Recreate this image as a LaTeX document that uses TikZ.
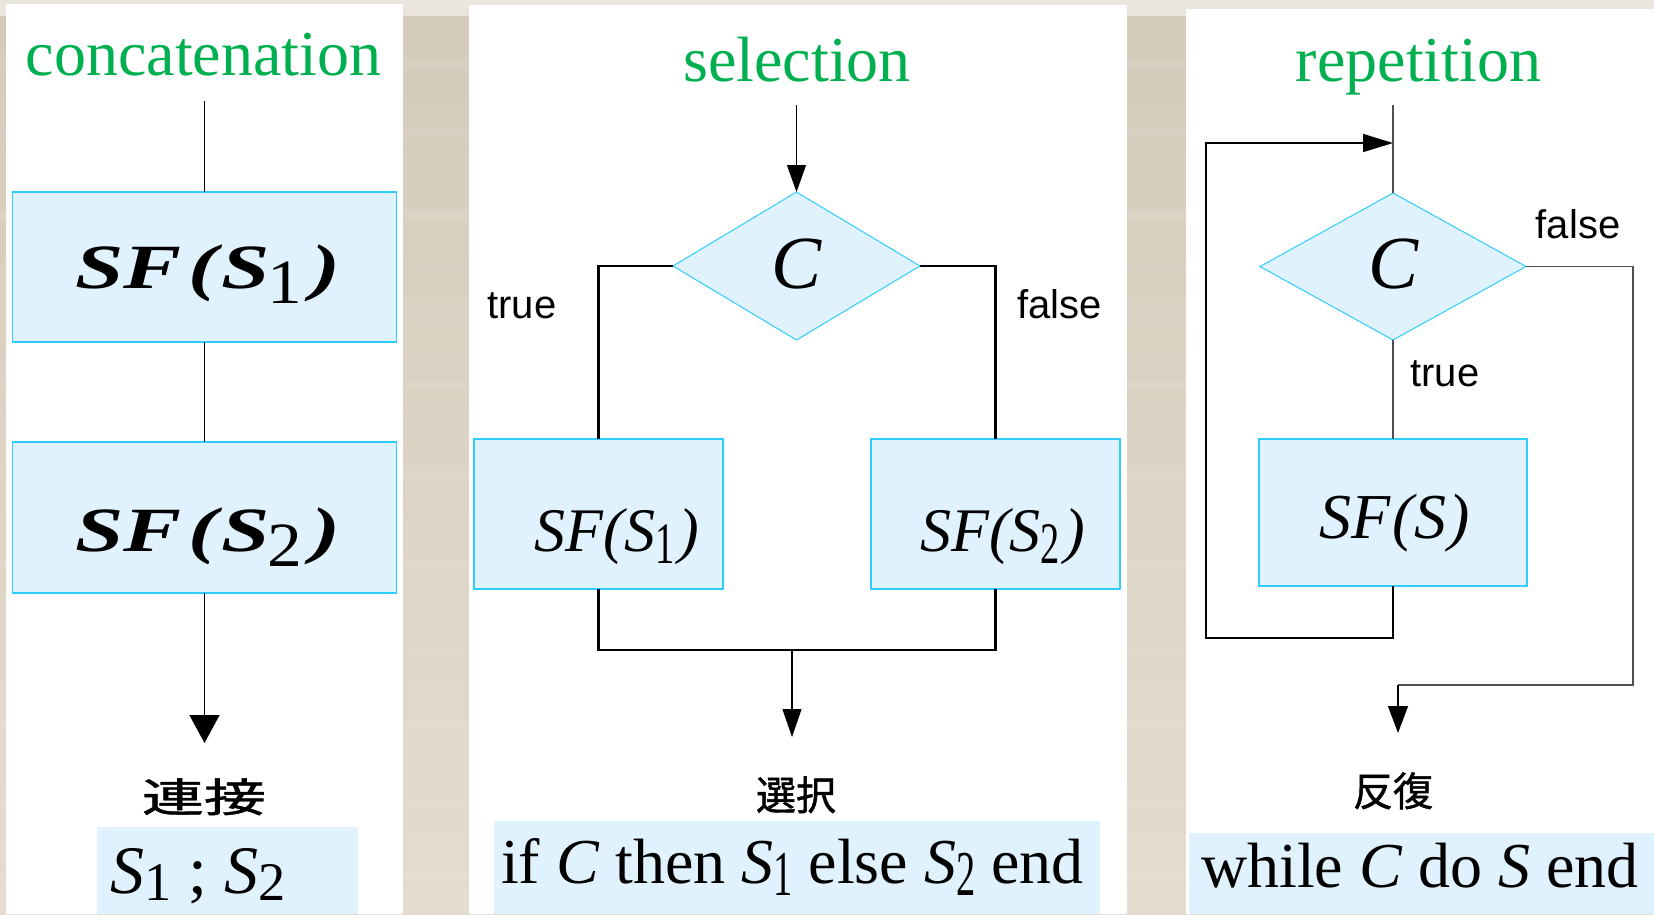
\documentclass[tikz,border=0pt]{standalone}
\usepackage{fontspec}
\usepackage{graphicx}
\setmainfont{Liberation Serif}
\newfontfamily\sansf{Liberation Sans}
\newfontfamily\cjk[FakeBold=1.2]{Noto Sans CJK JP}
\usetikzlibrary{shapes.geometric,arrows.meta}

\definecolor{titlegreen}{RGB}{0,176,80}
\definecolor{boxfill}{RGB}{224,242,254}
\definecolor{boxline}{RGB}{45,205,255}
\definecolor{paneltop}{RGB}{234,230,222}
\definecolor{beigeA}{RGB}{212,203,186}
\definecolor{beigeB}{RGB}{228,220,206}
\definecolor{wire}{RGB}{80,80,80}

% font size in points, unit leading
\newcommand\fs[1]{\fontsize{#1}{#1}\selectfont}
% lowered, rescaled index: drop, x-scale, y-scale, text
\newcommand\idx[4]{\raisebox{#1}{\scalebox{#2}[#3]{#4}}}

\begin{document}
\begin{tikzpicture}[x=1pt,y=-1pt,
  every node/.style={inner sep=0pt,outer sep=0pt},
  title/.style={text=titlegreen,font=\fs{64},anchor=base},
  proc/.style={rectangle,draw=boxline,fill=boxfill,line width=1.3pt},
  cond/.style={diamond,draw=boxline,fill=boxfill,line width=1pt,
    font=\fs{75}\itshape,text height=50pt,text depth=6pt},
  stmt/.style={anchor=base,font=\fs{62}\itshape},
  bigstmt/.style={anchor=base,font=\fs{63}\bfseries\itshape},
  branch/.style={anchor=base,font=\sansf\fs{40}},
  jp/.style={anchor=base,font=\cjk\fs{40}},
  formula/.style={rectangle,fill=boxfill},
  code/.style={anchor=base west},
  flow/.style={line width=1.3pt,draw=black},
  thick flow/.style={line width=2.2pt,draw=black},
]
\useasboundingbox (0,0) rectangle (1654,914);

% backdrop
\fill[paneltop] (0,0) rectangle (1654,914);
\shade[top color=beigeA,bottom color=beigeB] (0,16) rectangle (1654,914);
\foreach \yy/\op in {60/0.07,130/0.06,210/0.09,300/0.05,380/0.08,470/0.06,560/0.08,650/0.06,720/0.08,800/0.05,870/0.07}
  \fill[white,opacity=\op] (0,\yy) rectangle (1654,\yy+9);

% white panels
\fill[white] (6,4) rectangle (403,914);
\fill[white] (469,5) rectangle (1127,914);
\fill[white] (1186,9) rectangle (1654,914);

% ---------------- concatenation ----------------
\node[title] (t1) at (203.5,75) {concatenation};
\coordinate (c1in) at (204.5,101);
\node[proc,minimum width=384pt,minimum height=150pt] (c1a) at (204.5,267) {};
\node[proc,minimum width=384pt,minimum height=151pt] (c1b) at (204.5,517.5) {};
\coordinate (c1out) at (204.5,743);
\node[bigstmt] (c1atext) at (208,288)
  {\scalebox{1.38}[1]{SF\kern5pt(\kern3pt S\kern-2pt\idx{-15pt}{0.8}{1.0}{\mdseries\upshape 1}\kern7pt)}};
\node[bigstmt] (c1btext) at (208,551)
  {\scalebox{1.38}[1]{SF\kern5pt(\kern3pt S\kern-2pt\idx{-15pt}{0.8}{1.0}{\mdseries\upshape 2}\kern7pt)}};
\draw[flow] (c1in) -- (c1a.north);
\draw[flow] (c1a.south) -- (c1b.north);
\draw[flow,-{Triangle[length=28pt,width=30pt]}] (c1b.south) -- (c1out);
\node[jp] (c1jp) at (204,812) {\scalebox{1.55}[1]{連接}};
\node[formula,minimum width=261pt,minimum height=87pt] (c1f) at (227.5,870.5) {};
\node[code,font=\fs{68}] (c1code) at (110,893)
  {\itshape S\idx{-7pt}{0.8}{0.8}{\upshape 1} \upshape; \itshape S\idx{-7pt}{0.8}{0.8}{\upshape 2}};

% ---------------- selection ----------------
\node[title] (t2) at (797,81) {selection};
\coordinate (c2in) at (796.5,105);
\node[cond,minimum width=247pt,minimum height=148pt] (c2d) at (796.5,266) {C};
\node[proc,minimum width=249pt,minimum height=150pt] (c2l) at (598.5,514) {};
\node[proc,minimum width=249pt,minimum height=150pt] (c2r) at (995.5,514) {};
\node[stmt] (c2ltext) at (617,551) {SF(S\idx{-12pt}{0.62}{0.95}{\upshape 1}\kern4pt)};
\node[stmt] (c2rtext) at (1002.5,551) {SF(S\idx{-12pt}{0.62}{0.95}{\upshape 2}\kern4pt)};
\node[branch] (c2true) at (522,318.5) {true};
\node[branch] (c2false) at (1059.5,318.5) {false};
\coordinate (c2join) at (792,650);
\coordinate (c2out) at (792,737);
\draw[flow,-{Triangle[length=27pt,width=19pt]}] (c2in) -- (c2d.north);
\draw[thick flow] (c2d.west) -| (c2l.north);
\draw[thick flow] (c2d.east) -| (c2r.north);
\draw[thick flow] (c2l.south) |- (c2join) -| (c2r.south);
\draw[flow,line width=1.1pt,-{Triangle[length=28pt,width=19pt]}] (c2join) -- (c2out);
\node[jp] (c2jp) at (796,810) {選択};
\node[formula,minimum width=606pt,minimum height=93pt] (c2f) at (797,867.5) {};
\node[code,font=\fs{64}] (c2code) at (501,883)
  {if \textit{C} then \textit{S}\idx{-12pt}{0.6}{1.0}{1} else \textit{S}\idx{-12pt}{0.6}{1.0}{2} end};

% ---------------- repetition ----------------
\node[title] (t3) at (1418.5,81) {repetition};
\coordinate (c3in) at (1393,105);
\coordinate (c3merge) at (1393,143);
\node[cond,minimum width=266pt,minimum height=147pt] (c3d) at (1393,266.5) {C};
\node[proc,minimum width=268pt,minimum height=147pt] (c3b) at (1393,512.5) {};
\node[stmt,font=\fs{64}\itshape] (c3btext) at (1394.5,538) {SF\kern2pt(S\kern2pt)};
\node[branch] (c3false) at (1578,238) {false};
\node[branch] (c3true) at (1445,386) {true};
\coordinate (c3back) at (1206,638);
\coordinate (c3up) at (1206,143);
\coordinate (c3right) at (1633,685);
\coordinate (c3turn) at (1398,685);
\coordinate (c3out) at (1398,733);
\draw[flow,draw=wire] (c3in) -- (c3d.north);
\draw[flow,draw=wire] (c3d.south) -- (c3b.north);
\draw[flow,-{Triangle[length=30pt,width=18pt]}] (c3b.south) |- (c3back) -- (c3up) -- (c3merge);
\draw[flow,draw=wire] (c3d.east) -| (c3right) -- (c3turn);
\draw[flow,-{Triangle[length=27pt,width=20pt]}] (c3turn) -- (c3out);
\node[jp] (c3jp) at (1393,806) {反復};
\node[formula,minimum width=465pt,minimum height=81pt] (c3f) at (1421.5,873.5) {};
\node[code,font=\fs{64}] (c3code) at (1201,887)
  {while \textit{C} do \textit{S} end};
\end{tikzpicture}
\end{document}
